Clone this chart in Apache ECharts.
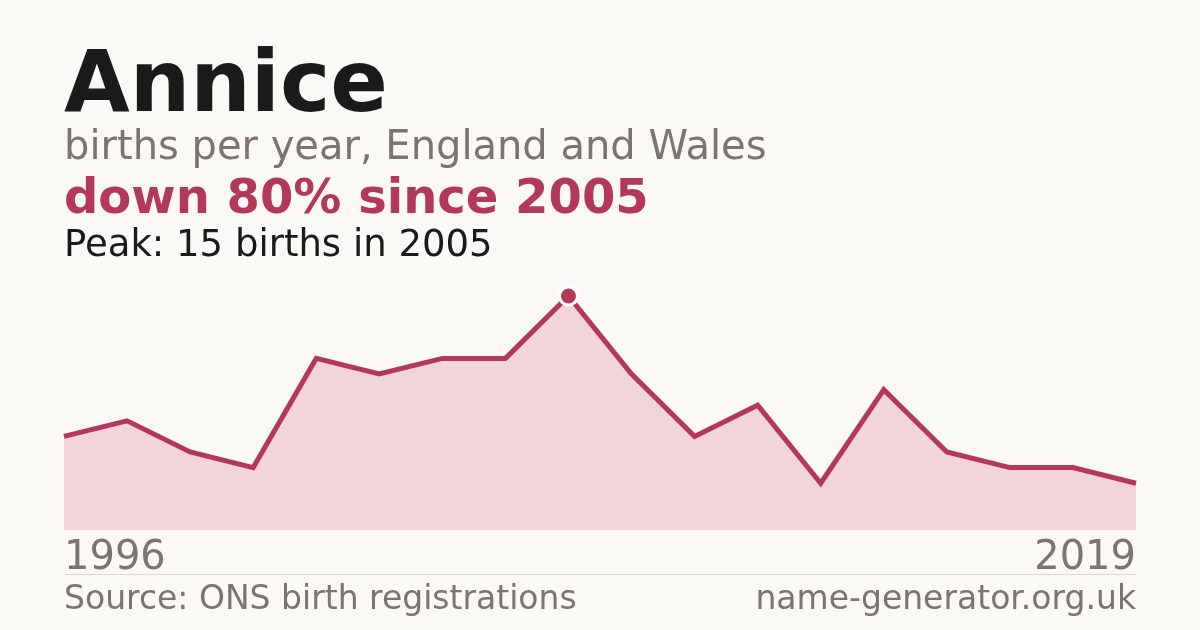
<!DOCTYPE html>
<html><head><meta charset="utf-8">
<script src="https://cdn.jsdelivr.net/npm/echarts@6/dist/echarts.min.js"></script>
<style>html,body{margin:0;padding:0;background:#faf9f5;}#c{width:1200px;height:630px;}</style>
</head><body><div id="c"></div>
<script>
const name = "Annice";
const years = ["1996","1997","1998","1999","2001","2002","2003","2004","2005","2006","2008","2009","2011","2012","2014","2016","2017","2019"];
const births = [6,7,5,4,11,10,11,11,15,10,6,8,3,9,5,4,4,3];

const RED = '#b3385a', GRAY = '#7a756e', DARK = '#1a1a1a';
let peakIdx = 0;
births.forEach((v,i)=>{ if (v > births[peakIdx]) peakIdx = i; });
const data = births.map((v,i)=> i===peakIdx ? {value:v, symbol:'circle', symbolSize:18, itemStyle:{color:RED,borderColor:'#ffffff',borderWidth:3}} : {value:v, symbol:'none'});

const chart = echarts.init(document.getElementById('c'), null, {renderer:'canvas'});
chart.setOption({
  backgroundColor:'#faf9f5',
  animation:false,
  grid:{left:64,right:64,top:296,bottom:100},
  xAxis:{type:'category',data:years,boundaryGap:false,show:false},
  yAxis:{type:'value',min:0,max:15,show:false},
  series:[{type:'line',data:data,showAllSymbol:true,clip:false,
    lineStyle:{color:RED,width:5,join:'miter'},
    areaStyle:{color:'#f1d5db',opacity:1},
    itemStyle:{color:RED},
    emphasis:{disabled:true},z:2}],
  graphic:[
    {type:'text',left:64,top:46,style:{text:name,font:'bold 85px "DejaVu Sans"',fill:DARK}},
    {type:'text',left:64,top:129,style:{text:'births per year, England and Wales',font:'40px "DejaVu Sans"',fill:GRAY}},
    {type:'text',left:64,top:177,style:{text:'down 80% since 2005',font:'bold 48px "DejaVu Sans"',fill:RED}},
    {type:'text',left:64,top:228,style:{text:'Peak: '+births[peakIdx]+' births in '+years[peakIdx],font:'37px "DejaVu Sans"',fill:DARK}},
    {type:'text',left:64,top:539,style:{text:years[0],font:'40px "DejaVu Sans"',fill:GRAY}},
    {type:'text',right:64,top:539,style:{text:years[years.length-1],font:'40px "DejaVu Sans"',fill:GRAY}},
    {type:'line',shape:{x1:64,y1:574.5,x2:1136,y2:574.5},style:{stroke:'#dcd9d2',lineWidth:1}},
    {type:'text',left:64,top:584,style:{text:'Source: ONS birth registrations',font:'33px "DejaVu Sans"',fill:GRAY}},
    {type:'text',right:64,top:584,style:{text:'name-generator.org.uk',font:'33px "DejaVu Sans"',fill:GRAY}}
  ]
});
</script></body></html>
